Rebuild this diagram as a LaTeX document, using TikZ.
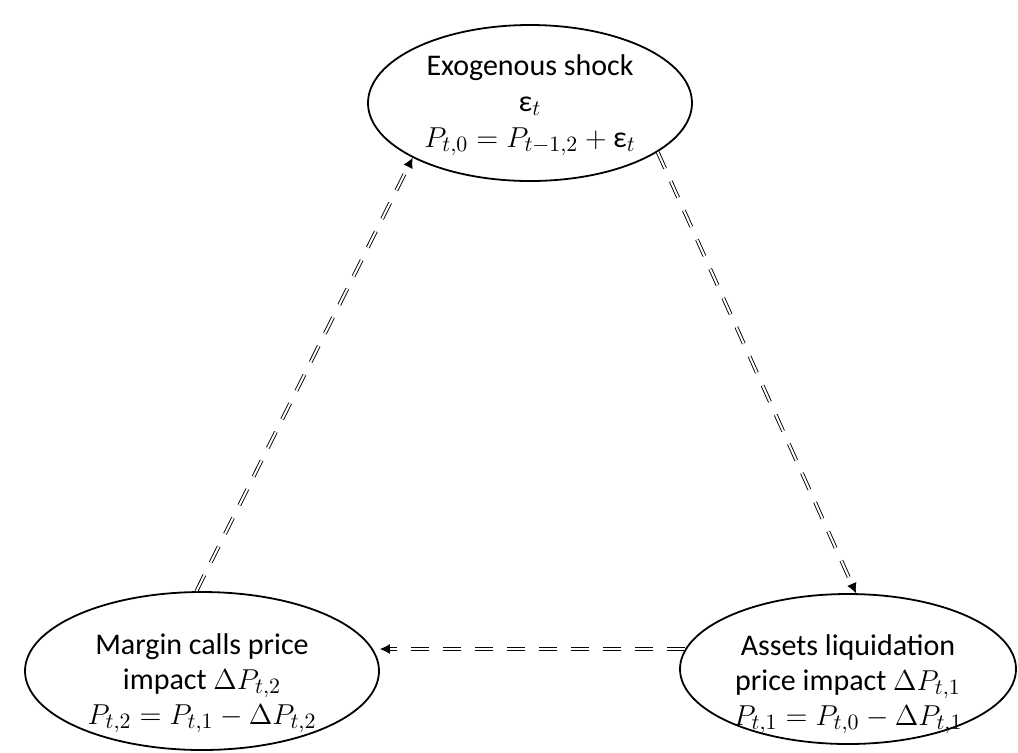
\documentclass[tikz,border=0pt]{standalone}
\usepackage{fontspec}
\setmainfont{Carlito}
\usepackage{tikz}
\usetikzlibrary{shapes.geometric, arrows.meta, positioning}
\newcommand{\eps}{\mbox{ε}}

\begin{document}
\begin{tikzpicture}[
			x=0.5pt, y=-0.5pt,
			stage/.style={ellipse, draw, line width=0.9pt, inner sep=0pt},
			stagetext/.style={align=center, font=\fontsize{15}{17.5}\selectfont},
			link/.style={draw, line width=0.45pt, double, double distance=1pt, dash pattern=on 9pt off 7pt, -{Latex[length=5pt, width=5pt]}},
			]
			\useasboundingbox (0,0) rectangle (1018,752);
			\node (shock) [stage, minimum width=162pt, minimum height=78pt,
				label={[stagetext, font=\fontsize{15}{18}\selectfont, yshift=-1pt]center:Exogenous shock\\ \eps$_t$\\ $P_{t,0} = P_{t-1,2} + \eps_t$}] at (530,103) {};
			\node (assets) [stage, minimum width=168pt, minimum height=75pt,
				label={[stagetext, yshift=-7.5pt]center:Assets liquidation\\ price impact $\Delta P_{t,1}$\\ $P_{t,1} = P_{t,0} - \Delta P_{t,1}$}] at (848,669) {};
			\node (margin) [stage, minimum width=177pt, minimum height=79pt,
				label={[stagetext, yshift=-6pt]center:Margin calls price\\ impact $\Delta P_{t,2}$\\ $P_{t,2} = P_{t,1} - \Delta P_{t,2}$}] at (202,671) {};
			
			\draw[link] (shock.-21) -- (assets.84); % shock hits asset prices
			\draw[link] (assets.173) -- (margin.east |- assets.173); % liquidation feeds margin calls
			\draw[link] (margin.94) -- (shock.205); % back to next round
		\end{tikzpicture}
\end{document}
